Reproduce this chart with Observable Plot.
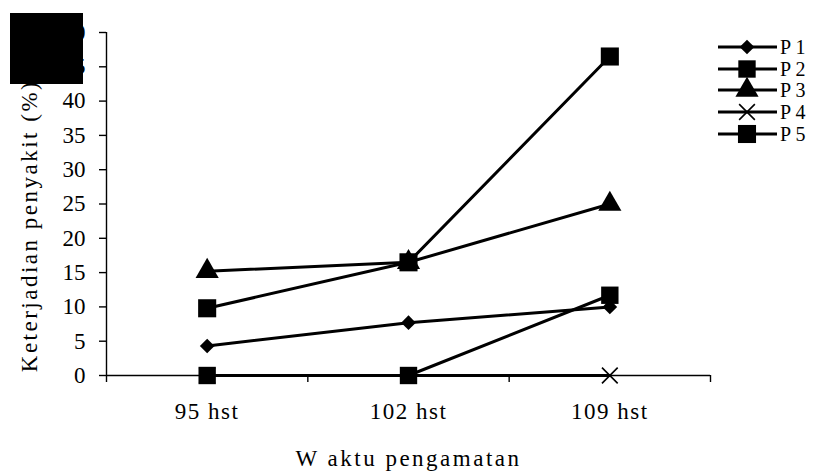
<!DOCTYPE html>
<html>
<head>
<meta charset="utf-8">
<script src="https://cdn.jsdelivr.net/npm/d3@7"></script>
<script src="https://cdn.jsdelivr.net/npm/@observablehq/plot@0.6"></script>
<style>
  html, body { margin: 0; padding: 0; background: #fff; }
  #wrap { position: relative; width: 819px; height: 476px; overflow: hidden; font-family: "Liberation Serif", "Times New Roman", serif; }
  #wrap svg.plot { position: absolute; left: 0; top: 0; }
  #legend { position: absolute; left: 0; top: 0; }
  #redact { position: absolute; left: 10px; top: 13px; width: 73px; height: 71px; background: #000; }
  g[aria-label="x-axis tick label"] text { letter-spacing: 1.5px; }
  g.xtitle text { letter-spacing: 2.5px; }
  g.ytitle text { letter-spacing: 2.5px; }
</style>
</head>
<body>
<div id="wrap"></div>
<script>
const categories = ["95 hst", "102 hst", "109 hst"];
const seriesNames = ["P1", "P2", "P3", "P4", "P5"];
const P1 = [4.3, 7.7, 10.0];
const P2 = [0, 0, 11.7];
const P3 = [15.2, 16.5, 25.0];
const P4 = [0, 0, 0];
const P5 = [9.8, 16.5, 46.5];
const yTicks = [0, 5, 10, 15, 20, 25, 30, 35, 40, 45, 50];
const legendLabels = ["P 1", "P 2", "P 3", "P 4", "P 5"];
const xTitle = "W aktu pengamatan";
const yTitle = "Keterjadian penyakit (%)";
const symbolNames = ["diamond2", "square", "triangle", "times", "square"];
const symbolR = [6.6, 9.8, 8.6, 7.2, 10.2];

const seriesValues = [P1, P2, P3, P4, P5];
const rows = [];
seriesNames.forEach((s, si) => {
  seriesValues[si].forEach((v, ci) => {
    rows.push({series: s, si, cat: categories[ci], pos: ci + 0.5, value: v});
  });
});

const font = '"Liberation Serif", "Times New Roman", serif';
const FS = 23;
const marks = [
  Plot.axisX({ticks: [0, 1, 2, 3], tickFormat: () => "", tickSize: 7, strokeWidth: 1.4, label: null}),
  Plot.axisX({ticks: categories.map((c, i) => i + 0.5), tickFormat: v => categories[Math.floor(v)], tickSize: 0, tickPadding: 27, fontSize: FS, label: null}),
  Plot.axisY({ticks: yTicks, tickSize: 7, tickPadding: 14, strokeWidth: 1.4, fontSize: FS, label: null}),
  Plot.text([xTitle], {text: d => d, frameAnchor: "bottom", dy: 83, fontSize: FS, lineAnchor: "middle", textAnchor: "middle", className: "xtitle"}),
  Plot.text([yTitle], {text: d => d, frameAnchor: "left", rotate: -90, dx: -77, dy: 22, fontSize: FS, lineAnchor: "middle", textAnchor: "middle", className: "ytitle"}),
  Plot.ruleX([0], {stroke: "#000", strokeWidth: 1.4}),
  Plot.ruleY([0], {stroke: "#000", strokeWidth: 1.4})
];
seriesNames.forEach((s, si) => {
  const d = rows.filter(r => r.series === s);
  marks.push(Plot.line(d, {x: "pos", y: "value", stroke: "#000", strokeWidth: 3}));
  const isStroke = symbolNames[si] === "times";
  marks.push(Plot.dot(d, {x: "pos", y: "value", symbol: () => symbolNames[si], r: symbolR[si],
    fill: isStroke ? "none" : "#000", stroke: isStroke ? "#000" : "none", strokeWidth: 1.6}));
});

const chart = Plot.plot({
  width: 819, height: 476,
  marginLeft: 106, marginRight: 109, marginTop: 32, marginBottom: 101,
  style: {fontFamily: font, fontSize: FS + "px", color: "#000", background: "#fff", overflow: "visible"},
  x: {domain: [0, 3], axis: null},
  y: {domain: [0, 50], axis: null},
  symbol: {type: "identity"},
  marks
});
chart.classList.add("plot");
document.getElementById("wrap").appendChild(chart);

// legend
const lg = d3.select("#wrap").append("svg").attr("id", "legend").attr("width", 819).attr("height", 476);
const rowY = [47, 69, 90, 112, 134];
const symMap = {diamond2: d3.symbolDiamond2, square: d3.symbolSquare, triangle: d3.symbolTriangle, times: d3.symbolTimes};
seriesNames.forEach((s, i) => {
  const g = lg.append("g").attr("transform", `translate(0,${rowY[i]})`);
  g.append("line").attr("x1", 718).attr("x2", 777).attr("y1", 0).attr("y2", 0).attr("stroke", "#000").attr("stroke-width", 3);
  const sz = Math.PI * symbolR[i] * symbolR[i];
  const isStroke = symbolNames[i] === "times";
  g.append("path").attr("transform", "translate(747,0)")
    .attr("d", d3.symbol(symMap[symbolNames[i]], sz)())
    .attr("fill", isStroke ? "none" : "#000").attr("stroke", isStroke ? "#000" : "none").attr("stroke-width", 1.6);
  g.append("text").attr("x", 780).attr("y", 0).attr("dy", "0.35em")
    .attr("font-family", font).attr("font-size", 20).text(legendLabels[i]);
});

const red = document.createElement("div");
red.id = "redact";
document.getElementById("wrap").appendChild(red);
</script>
</body>
</html>
